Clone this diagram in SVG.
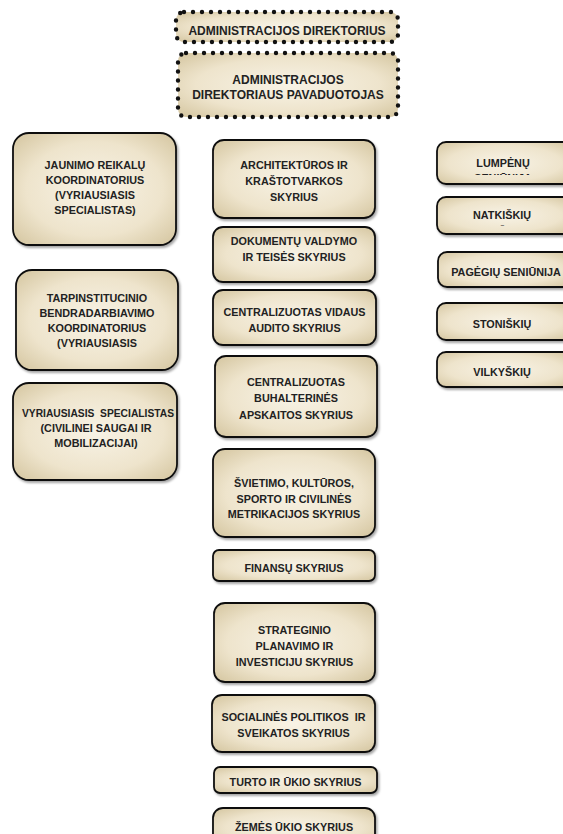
<svg xmlns="http://www.w3.org/2000/svg" width="563" height="834" viewBox="0 0 563 834">
<defs>
<radialGradient id="g" cx="50%" cy="50%" r="70%">
<stop offset="0" stop-color="#f8f3e6"/>
<stop offset="0.6" stop-color="#eee4cc"/>
<stop offset="1" stop-color="#d4c59f"/>
</radialGradient>
<filter id="sh" x="-10%" y="-10%" width="130%" height="140%">
<feDropShadow dx="1.5" dy="2" stdDeviation="1.2" flood-color="#000" flood-opacity="0.35"/>
</filter>
<clipPath id="c1"><rect x="437" y="142" width="130" height="33"/></clipPath>
<clipPath id="c2"><rect x="437" y="197" width="130" height="28.5"/></clipPath>
</defs>
<style>
.b{fill:url(#g);stroke:#111;stroke-width:1.8;filter:url(#sh)}
.d{fill:url(#g);stroke:#111;stroke-width:4.4;stroke-linecap:round;stroke-dasharray:0 9}
text{font-family:"Liberation Sans",Arial,sans-serif;font-weight:bold;font-size:10.8px;fill:#222;text-anchor:middle}
.t{font-size:12px}
</style>
<rect width="563" height="834" fill="#fff"/>
<g id="connectors"></g>

<g id="n-direktorius">
<rect class="d" x="176" y="12" width="222" height="30" rx="8"/>
<text class="t" x="287" y="35">ADMINISTRACIJOS DIREKTORIUS</text>
</g>
<g id="n-pavaduotojas">
<rect class="d" x="178" y="53" width="220" height="64" rx="8"/>
<text class="t" x="288" y="84">ADMINISTRACIJOS</text>
<text class="t" x="288" y="99">DIREKTORIAUS PAVADUOTOJAS</text>
</g>

<g id="n-jaunimo">
<rect class="b" x="13" y="133" width="163" height="112" rx="16"/>
<text x="95" y="169">JAUNIMO REIKALŲ</text>
<text x="95" y="184">KOORDINATORIUS</text>
<text x="95" y="199">(VYRIAUSIASIS</text>
<text x="95" y="214">SPECIALISTAS)</text>
</g>
<g id="n-tarpinstitucinio">
<rect class="b" x="16" y="270" width="162" height="100" rx="16"/>
<text x="97" y="302">TARPINSTITUCINIO</text>
<text x="97" y="317">BENDRADARBIAVIMO</text>
<text x="97" y="332">KOORDINATORIUS</text>
<text x="97" y="347">(VYRIAUSIASIS</text>
</g>
<g id="n-vyriausiasis">
<rect class="b" x="13" y="383" width="164" height="97" rx="16"/>
<text x="98" y="417" xml:space="preserve" textLength="152" lengthAdjust="spacingAndGlyphs">VYRIAUSIASIS  SPECIALISTAS</text>
<text x="96" y="432">(CIVILINEI SAUGAI IR</text>
<text x="96" y="447">MOBILIZACIJAI)</text>
</g>

<g id="n-architekturos">
<rect class="b" x="213" y="140" width="162" height="78" rx="11"/>
<text x="294" y="169">ARCHITEKTŪROS IR</text>
<text x="294" y="185">KRAŠTOTVARKOS</text>
<text x="294" y="201">SKYRIUS</text>
</g>
<g id="n-dokumentu">
<rect class="b" x="213" y="227" width="162" height="55" rx="10"/>
<text x="294" y="245">DOKUMENTŲ VALDYMO</text>
<text x="294" y="261">IR TEISĖS SKYRIUS</text>
</g>
<g id="n-vidaus">
<rect class="b" x="213" y="290" width="163" height="55" rx="10"/>
<text x="294.5" y="316">CENTRALIZUOTAS VIDAUS</text>
<text x="294.5" y="332">AUDITO SKYRIUS</text>
</g>
<g id="n-buhalterines">
<rect class="b" x="215" y="356" width="162" height="81" rx="11"/>
<text x="296" y="386">CENTRALIZUOTAS</text>
<text x="296" y="402">BUHALTERINĖS</text>
<text x="296" y="419">APSKAITOS SKYRIUS</text>
</g>
<g id="n-svietimo">
<rect class="b" x="213" y="449" width="162" height="88" rx="12"/>
<text x="294" y="487">ŠVIETIMO, KULTŪROS,</text>
<text x="294" y="503">SPORTO IR CIVILINĖS</text>
<text x="294" y="518">METRIKACIJOS SKYRIUS</text>
</g>
<g id="n-finansu">
<rect class="b" x="213" y="550" width="162" height="31" rx="6"/>
<text x="294" y="572">FINANSŲ SKYRIUS</text>
</g>
<g id="n-strateginio">
<rect class="b" x="214" y="603" width="161" height="79" rx="11"/>
<text x="294.5" y="634">STRATEGINIO</text>
<text x="294.5" y="650">PLANAVIMO IR</text>
<text x="294.5" y="666">INVESTICIJU SKYRIUS</text>
</g>
<g id="n-socialines">
<rect class="b" x="212" y="695" width="163" height="57" rx="10"/>
<text x="293.5" y="721" xml:space="preserve">SOCIALINĖS POLITIKOS  IR</text>
<text x="293.5" y="737">SVEIKATOS SKYRIUS</text>
</g>
<g id="n-turto">
<rect class="b" x="214" y="767" width="163" height="26" rx="6"/>
<text x="295.5" y="786">TURTO IR ŪKIO SKYRIUS</text>
</g>
<g id="n-zemes">
<rect class="b" x="213" y="808" width="162" height="40" rx="10"/>
<text x="294" y="831">ŽEMĖS ŪKIO SKYRIUS</text>
</g>

<g id="n-lumpenu">
<rect class="b" x="437" y="142" width="135" height="42" rx="9"/>
<g clip-path="url(#c1)">
<text x="503" y="167">LUMPĖNŲ</text>
<text x="503" y="182">SENIŪNIJA</text>
</g>
</g>
<g id="n-natkiskiu">
<rect class="b" x="437" y="197" width="135" height="37" rx="9"/>
<g clip-path="url(#c2)">
<text x="502" y="219">NATKIŠKIŲ</text>
<text x="502" y="234">SENIŪNIJA</text>
</g>
</g>
<g id="n-pageigiu">
<rect class="b" x="438" y="252" width="134" height="35" rx="9"/>
<text x="506" y="276">PAGĖGIŲ SENIŪNIJA</text>
</g>
<g id="n-stoniskiu">
<rect class="b" x="437" y="303" width="135" height="37" rx="9"/>
<text x="502" y="328">STONIŠKIŲ</text>
</g>
<g id="n-vilkyskiu">
<rect class="b" x="437" y="352" width="135" height="35" rx="9"/>
<text x="502" y="376">VILKYŠKIŲ</text>
</g>
</svg>
